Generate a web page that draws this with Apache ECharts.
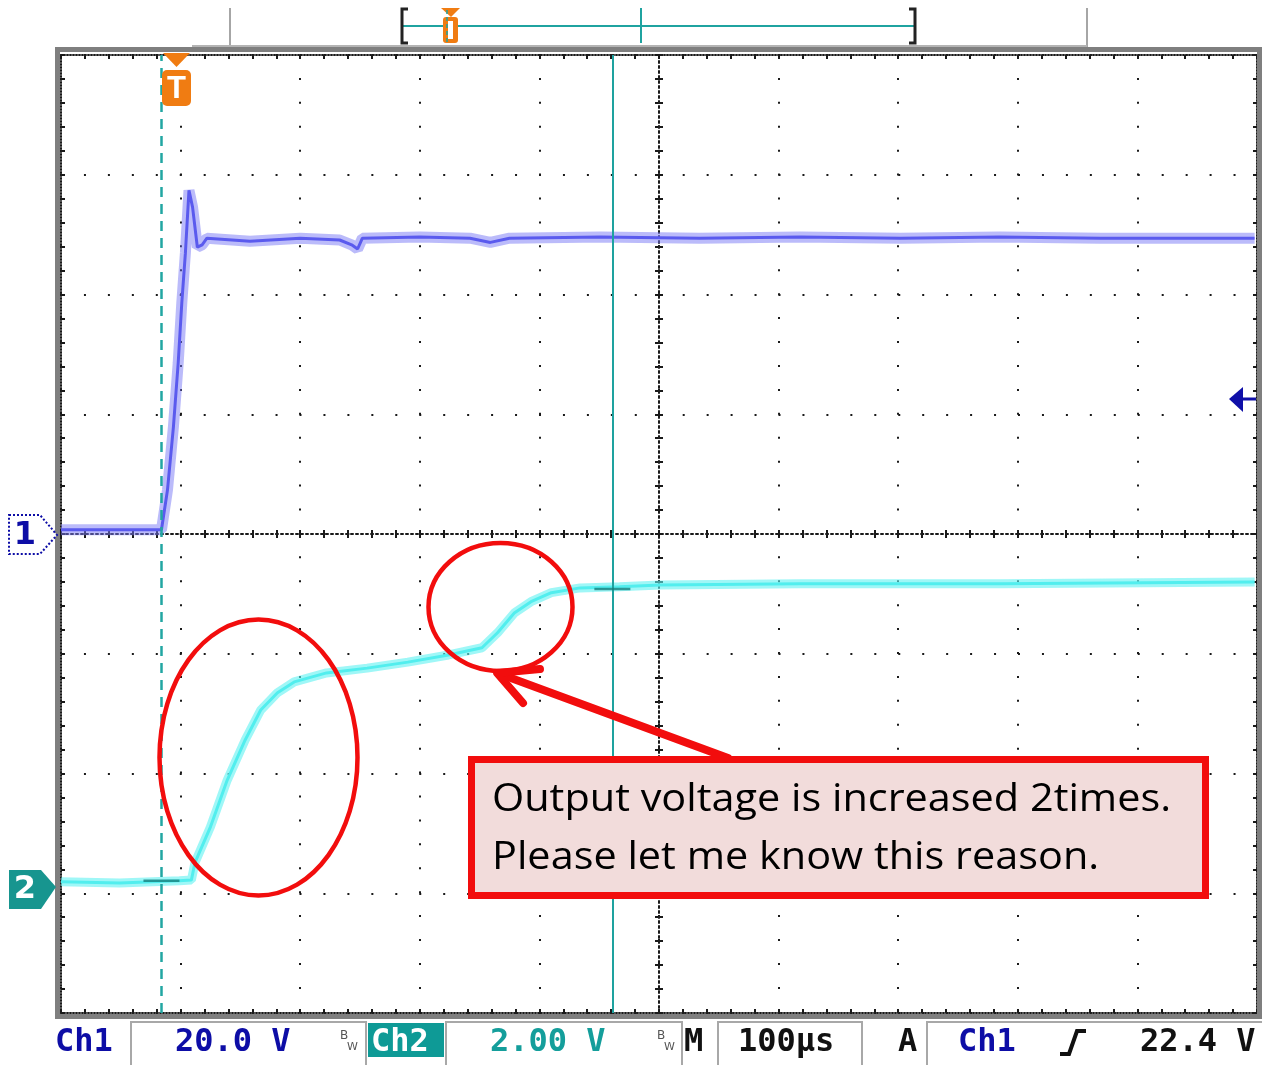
<!DOCTYPE html>
<html lang="en">
<head>
  <meta charset="UTF-8">
  <title>scope-capture</title>
  <script src="https://cdn.jsdelivr.net/npm/echarts@6/dist/echarts.min.js"></script>
  <style>
    html, body {
      margin: 0;
      padding: 0;
      background: #fff;
    }

    #chart-main {
      width: 1262px;
      height: 1065px;
    }
  </style>
</head>
<body>
<div id="chart-main"></div>

<script type="text/javascript">
  // time in µs from the screen centre (100 µs/div), volts per channel
  const ch1Time = [-500, -416, -411, -406, -402, -399, -396, -393, -390, -386, -382, -378, -342, -300, -267, -257, -252, -248, -200, -158, -141, -125, -49, 34, 118, 202, 285, 369, 498]
  const ch1Volt = [0.7, 0.7, 7.3, 17.9, 28.6, 38.6, 46.9, 57.4, 54.6, 47.9, 48.3, 49.4, 48.9, 49.4, 49.1, 48.3, 47.6, 49.4, 49.6, 49.4, 48.7, 49.4, 49.6, 49.4, 49.6, 49.4, 49.6, 49.4, 49.4]

  const ch2Time = [-500, -451, -401, -391, -388, -375, -361, -346, -333, -319, -305, -278, -244, -210, -176, -148, -135, -121, -107, -90, -66, -33, 1, 118, 285, 498]
  const ch2Volt = [0.05, 0.03, 0.07, 0.08, 0.37, 0.97, 1.75, 2.42, 2.92, 3.21, 3.39, 3.54, 3.62, 3.72, 3.84, 3.96, 4.21, 4.54, 4.73, 4.88, 4.96, 4.98, 5.01, 5.03, 5.03, 5.06]

  const triggerTime = -416
  const cursorTime = -39
  const ch2Marks = [[triggerTime, 0.07], [cursorTime, 4.94]]

  // ch1 20 V/div centred, ch2 2 V/div with ground 2.93 div below centre
  const ch1Range = [-80, 80]
  const ch2Range = [-2.14, 13.86]

  const statusItems = [
    ['Ch1', 55, '#0d0da6'], ['20.0 V', 175, '#0d0da6'], ['Ch2', 371, '#ffffff'], ['2.00 V', 490, '#149e9b'],
    ['M', 684, '#111'], ['100µs', 738, '#111'], ['A', 898, '#111'], ['Ch1', 958, '#0d0da6'], ['22.4 V', 1140, '#111']
  ]
  const noteLines = ['Output voltage is increased 2times.', 'Please let me know this reason.']

  const dot = '#1a1a1a'
  const red = '#f20d0d'

  function zip(xs, ys) {
    return xs.map((x, i) => [x, ys[i]])
  }

  function baseAxis(range, interval, extra) {
    return Object.assign({
      type: 'value',
      min: range[0],
      max: range[1],
      interval: interval,
      axisLabel: {show: false},
      splitLine: {show: false},
      axisLine: {show: false, onZero: false},
      axisTick: {show: false},
      minorTick: {show: false}
    }, extra)
  }

  function tickAxis(range, interval, position, inside, centre, line) {
    return baseAxis(range, interval, {
      position: position,
      axisLine: {
        show: line,
        onZero: centre,
        onZeroAxisIndex: 0,
        lineStyle: {color: dot, width: 2, type: centre ? [2, 3] : [1, 2]}
      },
      axisTick: {show: true, inside: inside, length: 4, lineStyle: {color: dot, width: 2}},
      minorTick: {show: true, splitNumber: 5, length: 4, lineStyle: {color: dot, width: 2}}
    })
  }

  let echartItem = echarts.init(document.getElementById('chart-main'))

  let graphics = [
    // graticule frame
    {type: 'rect', z: 90, shape: {x: 57.5, y: 49.5, width: 1202, height: 967}, style: {fill: 'transparent', stroke: '#7f7f7f', lineWidth: 5}},
    // record bar on top
    {type: 'line', z: 90, shape: {x1: 230, y1: 8, x2: 230, y2: 47}, style: {stroke: '#a6a6a6', lineWidth: 2}},
    {type: 'line', z: 90, shape: {x1: 1087, y1: 8, x2: 1087, y2: 47}, style: {stroke: '#a6a6a6', lineWidth: 2}},
    {type: 'line', z: 90, shape: {x1: 192, y1: 46, x2: 1087, y2: 46}, style: {stroke: '#b4b4b4', lineWidth: 2}},
    {type: 'line', z: 90, shape: {x1: 402, y1: 26, x2: 915, y2: 26}, style: {stroke: '#1fa3a0', lineWidth: 2}},
    {type: 'line', z: 90, shape: {x1: 641, y1: 8, x2: 641, y2: 43}, style: {stroke: '#1fa3a0', lineWidth: 2}},
    {type: 'polyline', z: 90, shape: {points: [[408, 9], [402, 9], [402, 43], [408, 43]]}, style: {fill: null, stroke: '#222', lineWidth: 3}},
    {type: 'polyline', z: 90, shape: {points: [[909, 9], [915, 9], [915, 43], [909, 43]]}, style: {fill: null, stroke: '#222', lineWidth: 3}},
    {type: 'polygon', z: 91, shape: {points: [[441, 8], [460, 8], [451, 17]]}, style: {fill: '#f07c12'}},
    {type: 'rect', z: 91, shape: {x: 443, y: 17, width: 15, height: 26, r: 3}, style: {fill: '#f07c12'}},
    {type: 'rect', z: 92, shape: {x: 448, y: 21, width: 5, height: 18}, style: {fill: '#fff'}},
    {type: 'line', z: 93, shape: {x1: 447, y1: 10, x2: 447, y2: 43}, style: {stroke: '#1fa3a0', lineWidth: 1.5, lineDash: [4, 3]}},
    // trigger position marker
    {type: 'polygon', z: 91, shape: {points: [[163, 53], [190, 53], [176.5, 67]]}, style: {fill: '#f07c12'}},
    {type: 'rect', z: 91, shape: {x: 162, y: 70, width: 29, height: 36, r: 5}, style: {fill: '#f07c12'}},
    {type: 'text', z: 92, style: {text: 'T', x: 176.5, y: 89, font: 'bold 31px "Liberation Sans"', fill: '#fff', textAlign: 'center', textVerticalAlign: 'middle'}},
    // channel ground markers
    {type: 'polygon', z: 91, shape: {points: [[9, 515], [40, 515], [57, 535], [40, 554], [9, 554]]}, style: {fill: '#fff', stroke: '#0d0da6', lineWidth: 2, lineDash: [2, 2]}},
    {type: 'text', z: 92, style: {text: '1', x: 25, y: 536, font: 'bold 32px "DejaVu Sans"', fill: '#0d0da6', textAlign: 'center', textVerticalAlign: 'middle'}},
    {type: 'polygon', z: 91, shape: {points: [[9, 870], [41, 870], [56, 887], [41, 909], [9, 909]]}, style: {fill: '#17958f'}},
    {type: 'text', z: 92, style: {text: '2', x: 25, y: 890, font: 'bold 32px "DejaVu Sans"', fill: '#fff', textAlign: 'center', textVerticalAlign: 'middle'}},
    // trigger level arrow
    {type: 'polygon', z: 91, shape: {points: [[1229, 399], [1243, 387], [1243, 412]]}, style: {fill: '#0f0fa8'}},
    {type: 'line', z: 91, shape: {x1: 1242, y1: 399, x2: 1256, y2: 399}, style: {stroke: '#0f0fa8', lineWidth: 3}},
    // annotations
    {type: 'ellipse', z: 100, shape: {cx: 258.5, cy: 757.5, rx: 99, ry: 138}, style: {fill: 'transparent', stroke: red, lineWidth: 4.5}},
    {type: 'ellipse', z: 100, shape: {cx: 500.5, cy: 607, rx: 72, ry: 64}, style: {fill: 'transparent', stroke: red, lineWidth: 4.5}},
    {type: 'line', z: 100, shape: {x1: 500, y1: 674, x2: 728, y2: 758}, style: {stroke: red, lineWidth: 8, lineCap: 'round'}},
    {type: 'polyline', z: 100, shape: {points: [[540, 669], [497, 673], [523, 703]]}, style: {fill: null, stroke: red, lineWidth: 8, lineCap: 'round', lineJoin: 'round'}},
    {type: 'rect', z: 101, shape: {x: 471.5, y: 759.5, width: 734, height: 136}, style: {fill: '#f2dcdb', stroke: red, lineWidth: 7}},
    // status bar boxes
    {type: 'rect', z: 90, shape: {x: 131, y: 1022, width: 235, height: 45}, style: {fill: '#fff', stroke: '#a8a8a8', lineWidth: 2}},
    {type: 'rect', z: 90, shape: {x: 368, y: 1023, width: 76, height: 34}, style: {fill: '#0e9a96'}},
    {type: 'rect', z: 90, shape: {x: 446, y: 1022, width: 236, height: 45}, style: {fill: '#fff', stroke: '#a8a8a8', lineWidth: 2}},
    {type: 'rect', z: 90, shape: {x: 718, y: 1022, width: 144, height: 45}, style: {fill: '#fff', stroke: '#a8a8a8', lineWidth: 2}},
    {type: 'rect', z: 90, shape: {x: 927, y: 1022, width: 340, height: 45}, style: {fill: '#fff', stroke: '#a8a8a8', lineWidth: 2}},
    {type: 'text', z: 92, style: {text: 'B', x: 340, y: 1036, font: '12px "DejaVu Sans"', fill: '#555', textVerticalAlign: 'middle'}},
    {type: 'text', z: 92, style: {text: 'W', x: 347, y: 1047, font: '11px "DejaVu Sans"', fill: '#555', textVerticalAlign: 'middle'}},
    {type: 'text', z: 92, style: {text: 'B', x: 657, y: 1036, font: '12px "DejaVu Sans"', fill: '#555', textVerticalAlign: 'middle'}},
    {type: 'text', z: 92, style: {text: 'W', x: 664, y: 1047, font: '11px "DejaVu Sans"', fill: '#555', textVerticalAlign: 'middle'}},
    {type: 'polyline', z: 92, shape: {points: [[1060, 1054], [1069, 1054], [1077, 1031], [1086, 1031]]}, style: {fill: null, stroke: '#111', lineWidth: 4}}
  ]

  // the note is a stretched Calibri in the original, so widen Open Sans a little
  noteLines.forEach(function (line, i) {
    graphics.push({
      type: 'text', z: 102, x: 492, y: 800 + i * 58, scaleX: 1.09,
      style: {text: line, x: 0, y: 0, font: '38px "Open Sans"', fill: '#000', textVerticalAlign: 'middle'}
    })
  })

  statusItems.forEach(function (item) {
    graphics.push({
      type: 'text', z: 92,
      style: {text: item[0], x: item[1], y: 1043, font: 'bold 32px "DejaVu Sans Mono"', fill: item[2], textVerticalAlign: 'middle'}
    })
  })

  let option = {
    animation: false,
    backgroundColor: '#fff',
    grid: {
      left: 61,
      top: 55,
      width: 1196,
      height: 958,
      outerBoundsMode: 'none'
    },
    xAxis: [
      Object.assign(tickAxis([-500, 500], 100, 'bottom', true, true, true), {
        splitLine: {show: true, lineStyle: {color: dot, width: 2, type: [2, 21.92], dashOffset: 1}}
      }),
      tickAxis([-500, 500], 100, 'bottom', false, true, false),
      tickAxis([-500, 500], 100, 'top', true, false, true),
      tickAxis([-500, 500], 100, 'bottom', true, false, true)
    ],
    yAxis: [
      Object.assign(tickAxis(ch1Range, 20, 'left', true, true, true), {
        splitLine: {show: true, lineStyle: {color: dot, width: 2, type: [2, 21.95], dashOffset: 1}}
      }),
      tickAxis(ch1Range, 20, 'left', false, true, false),
      tickAxis(ch1Range, 20, 'left', true, false, true),
      tickAxis(ch1Range, 20, 'right', true, false, true),
      baseAxis(ch2Range, 2, {show: false})
    ],
    graphic: graphics,
    series: [
      {
        name: 'Ch1 band', type: 'line', xAxisIndex: 0, yAxisIndex: 0, z: 3, silent: true,
        data: zip(ch1Time, ch1Volt), showSymbol: false,
        lineStyle: {color: 'rgba(120,120,245,0.5)', width: 11}
      },
      {
        name: 'Ch1', type: 'line', xAxisIndex: 0, yAxisIndex: 0, z: 4, silent: true,
        data: zip(ch1Time, ch1Volt), showSymbol: false,
        lineStyle: {color: '#5a5aee', width: 3}
      },
      {
        name: 'Ch2 band', type: 'line', xAxisIndex: 0, yAxisIndex: 4, z: 3, silent: true,
        data: zip(ch2Time, ch2Volt), showSymbol: false,
        lineStyle: {color: 'rgba(95,242,242,0.6)', width: 9}
      },
      {
        name: 'Ch2', type: 'line', xAxisIndex: 0, yAxisIndex: 4, z: 4, silent: true,
        data: zip(ch2Time, ch2Volt), showSymbol: false,
        lineStyle: {color: '#52eeee', width: 3}
      },
      {
        name: 'cursors', type: 'scatter', xAxisIndex: 0, yAxisIndex: 4, z: 6, silent: true,
        data: ch2Marks, symbol: 'rect', symbolSize: [36, 2.5],
        itemStyle: {color: '#14807d'},
        markLine: {
          symbol: 'none', silent: true, animation: false, label: {show: false},
          data: [
            {xAxis: triggerTime, lineStyle: {type: [10, 7], color: '#22a6a2', width: 2.5}},
            {xAxis: cursorTime, lineStyle: {type: 'solid', color: '#1ea29f', width: 2}}
          ]
        }
      }
    ]
  }

  echartItem.setOption(option)

</script>
</body>
</html>
